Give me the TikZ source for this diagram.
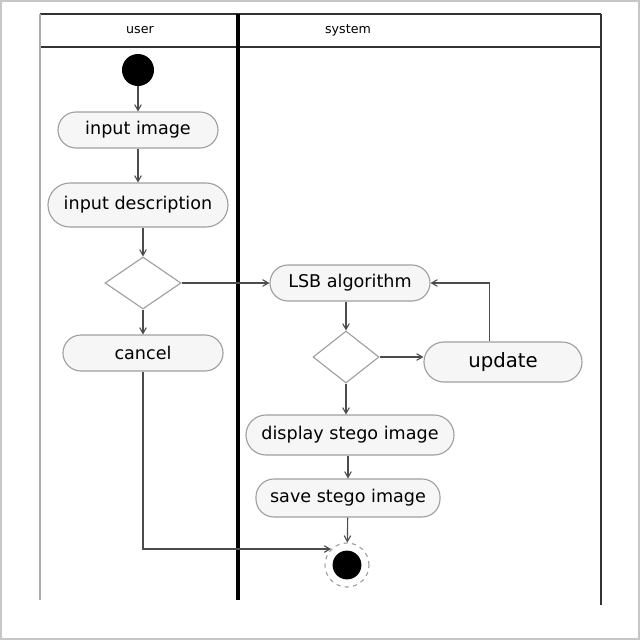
\documentclass[tikz,border=0pt]{standalone}
\usepackage{fontspec}
\setmainfont{DejaVu Sans}
\usetikzlibrary{shapes.geometric, arrows, positioning}

\begin{document}
\begin{tikzpicture}[
    x=0.025cm, y=-0.025cm,
    action/.style={rectangle, draw=gray!75, fill=gray!7, rounded corners=0.45cm, minimum height=0.9cm, minimum width=4cm, align=center, font=\fontsize{12.5}{14}\selectfont, thick},
    decision/.style={diamond, draw=gray!75, fill=white, minimum width=1.9cm, minimum height=1.3cm, inner sep=0pt, thick},
    start/.style={circle, fill=black, minimum size=0.8cm, inner sep=0pt},
    final/.style={circle, draw=gray!75, dashed, thick, minimum size=1.1cm, inner sep=0pt,
        path picture={\fill[black] (path picture bounding box.center) circle (0.36cm);}},
    arrow/.style={->, >=angle 60, thick, gray!60!black},
    lane/.style={line width=2pt, black!80},
    lanelbl/.style={font=\fontsize{9}{10}\selectfont}
]
    \useasboundingbox (0,0) rectangle (640,640);
    \draw[gray!45, line width=2.5pt] (0,0) rectangle (640,640);

    % swimlanes
    \draw[lane] (40,14) -- (601,14);
    \draw[lane] (40,47) -- (601,47);
    \draw[lane, gray!65] (40,14) -- (40,600);
    \draw[lane, line width=3pt, black] (238,14) -- (238,600);
    \draw[lane] (601,14) -- (601,605);
    \node[lanelbl] (userlbl) at (140,30) {user};
    \node[lanelbl] (syslbl) at (348,30) {system};

    % user lane
    \node[start] (start) at (138,70) {};
    \node[action] (input) at (138,130) {input image};
    \node[action, minimum width=4.5cm, minimum height=1.1cm, rounded corners=0.55cm] (desc) at (138,205) {input description};
    \node[decision] (check) at (143,283) {};
    \node[action] (cancel) at (143,353) {cancel};

    % system lane
    \node[action] (lsb) at (350,283) {LSB algorithm};
    \node[decision, minimum width=1.65cm] (verify) at (346,357) {};
    \node[action, minimum width=3.95cm, minimum height=1cm, rounded corners=0.5cm, font=\fontsize{14}{16}\selectfont] (update) at (503,362) {update};
    \node[action, minimum width=5.2cm, minimum height=1cm, rounded corners=0.5cm] (display) at (350,435) {display stego image};
    \node[action, minimum width=4.6cm, minimum height=0.95cm] (save) at (348,498) {save stego image};
    \node[final] (final) at (347,565) {};

    \draw[arrow] (start) -- (input);
    \draw[arrow] (input) -- (desc);
    \draw[arrow] (desc.south -| check) -- (check.north);
    \draw[arrow] (check) -- (lsb);
    \draw[arrow] (check) -- (cancel);
    \draw[arrow] (cancel.south) |- (final.north west);
    \draw[arrow] (lsb.south -| verify) -- (verify.north);
    \draw[arrow] (verify.east) -- (verify.east -| update.west);
    \draw[arrow] ([xshift=-0.33cm]update.north) |- (lsb.east);
    \draw[arrow] (verify.south) -- (verify.south |- display.north);
    \draw[arrow] (display.south -| save) -- (save.north);
    \draw[arrow] (save) -- (final);
\end{tikzpicture}
\end{document}
